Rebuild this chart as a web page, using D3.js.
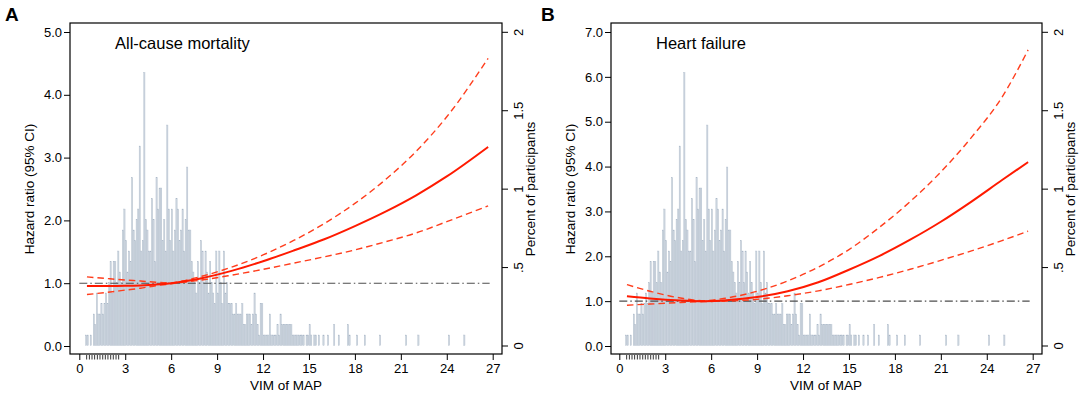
<!DOCTYPE html>
<html><head><meta charset="utf-8">
<script src="https://cdn.jsdelivr.net/npm/d3@7/dist/d3.min.js"></script>
<style>
html,body{margin:0;padding:0;background:#fff;}
svg{display:block;font-family:"Liberation Sans",Arial,sans-serif;}
</style></head><body>
<svg id="chart" width="1084" height="397"></svg>
<script>
// ---------------- DATA ----------------
const xTicks = [0,3,6,9,12,15,18,21,24,27];
const hrTicksA = [0,1,2,3,4,5];
const hrTicksB = [0,1,2,3,4,5,6,7];
const pctTicks = [0,0.5,1,1.5,2];
const pctLabels = ["0",".5","1","1.5","2"];
const rugTicks = [0.48,0.66,0.83,1.0,1.18,1.35,1.53,1.7,1.87,2.05,2.22,2.4,2.57];

// histogram (counts per 0.1-wide bin, shared by both panels)
const histStart = 0.4, binWidth = 0.1, totalN = 1494;
const histCounts = [
 1,1,0,1,0,3,2,5,3,3, 4,3,4,5,4,6,8,5,8,8, 6,9,7,6,11,13,10,7,9,8,
 16,11,10,12,13,19,9,10,26,12, 11,9,9,14,12,8,16,13,15,15, 10,12,9,21,13,10,13,9,11,14,
 13,10,11,13,9,12,17,11,11,8, 7,6,5,8,6,10,9,6,9,7, 5,8,6,5,4,9,5,9,6,4,
 9,5,6,4,4,4,3,3,4,3, 3,3,4,2,2,3,3,3,2,3, 5,3,2,1,4,4,1,1,1,1,
 3,1,1,1,1,2,1,3,2,2, 2,2,2,2,2,1,1,1,1,1, 1,1,1,0,1,1,2,1,0,1,1
];
const tailBins   = [15.6,15.9,16.2,16.6,16.9,17.5,17.6,18.1,18.6,19.6,21.3,22.1,24.1,25.1];
const tailCounts = [1,1,1,2,1,2,1,1,1,1,1,1,1,1];

// Panel A: all-cause mortality
const vimA   = [0.5,2,3,4,5,6,7,8,10,12,14,16,18,20,22,24,26.7];
const hrA    = [0.955,0.955,0.958,0.965,0.978,1.0,1.035,1.08,1.20,1.35,1.52,1.70,1.91,2.14,2.40,2.70,3.17];
const upperA = [1.10,1.07,1.05,1.035,1.015,1.005,1.05,1.11,1.26,1.45,1.68,1.95,2.27,2.65,3.10,3.65,4.58];
const lowerA = [0.82,0.86,0.89,0.92,0.96,0.99,1.02,1.05,1.13,1.22,1.32,1.42,1.53,1.66,1.80,1.98,2.23];

// Panel B: heart failure
const vimB   = [0.5,2,4,5.5,7,9,11,13,15,17,19,21,23,25,26.7];
const hrB    = [1.11,1.06,1.015,1.0,1.02,1.09,1.22,1.42,1.70,2.01,2.37,2.77,3.22,3.70,4.10];
const upperB = [1.37,1.22,1.07,1.01,1.07,1.22,1.45,1.76,2.15,2.65,3.22,3.88,4.65,5.55,6.60];
const lowerB = [0.91,0.935,0.97,0.99,1.0,1.04,1.12,1.23,1.37,1.53,1.71,1.91,2.12,2.35,2.56];

// ---------------- DRAW ----------------
const svg = d3.select("#chart");
const histBins = histCounts.map((c,i)=>({x: histStart + i*binWidth, c}))
  .concat(tailBins.map((x,i)=>({x, c: tailCounts[i]})));

function panel(cfg){
  const g = svg.append("g");
  const x = d3.scaleLinear().domain([0,27]).range([cfg.x0, cfg.x0 + 413.4]);
  const y = d3.scaleLinear().domain([0,cfg.hrMax]).range([346, 32]);
  const yp = d3.scaleLinear().domain([0,2]).range([345.5, 31.8]);

  // histogram
  g.append("g").selectAll("rect").data(histBins.filter(d=>d.c>0)).join("rect")
    .attr("x", d=>x(d.x)+0.1)
    .attr("width", x(binWidth)-x(0)-0.25)
    .attr("y", d=>yp(d.c/totalN*100))
    .attr("height", d=>yp(0)-yp(d.c/totalN*100))
    .attr("fill","#cdd5df").attr("stroke","#a9b7c7").attr("stroke-width",0.35);

  // reference line
  g.append("line").attr("x1",x(0)).attr("x2",x(26.8))
    .attr("y1",y(1)).attr("y2",y(1))
    .attr("stroke","#4d4d4d").attr("stroke-width",1.1)
    .attr("stroke-dasharray","8,3,1.5,3");

  const line = (xs, ys) => d3.line().x((d,i)=>x(xs[i])).y(d=>y(d)).curve(d3.curveMonotoneX)(ys);
  g.append("path").attr("d", line(cfg.vim, cfg.upper)).attr("fill","none")
    .attr("stroke","#ff3d1c").attr("stroke-width",1.4).attr("stroke-dasharray","6.5,4");
  g.append("path").attr("d", line(cfg.vim, cfg.lower)).attr("fill","none")
    .attr("stroke","#ff3d1c").attr("stroke-width",1.4).attr("stroke-dasharray","6.5,4");
  g.append("path").attr("d", line(cfg.vim, cfg.hr)).attr("fill","none")
    .attr("stroke","#ff1a00").attr("stroke-width",2);

  // box
  g.append("rect").attr("x",cfg.bx0).attr("y",23).attr("width",cfg.bx1-cfg.bx0).attr("height",354-23)
    .attr("fill","none").attr("stroke","#000").attr("stroke-width",1.2);

  // left axis
  const la = g.append("g").attr("transform",`translate(${cfg.bx0},0)`)
    .call(d3.axisLeft(y).tickValues(cfg.hrTicks).tickFormat(d3.format(".1f")).tickSize(6).tickPadding(2));
  la.select(".domain").remove();
  la.selectAll("text").attr("font-size",13).attr("font-family","Liberation Sans, Arial").attr("fill","#000");

  // right axis
  const ra = g.append("g").attr("transform",`translate(${cfg.bx1},0)`)
    .call(d3.axisRight(yp).tickValues(pctTicks).tickFormat((d,i)=>pctLabels[i]).tickSize(6));
  ra.select(".domain").remove();
  ra.selectAll("text").attr("font-size",13).attr("font-family","Liberation Sans, Arial").attr("fill","#000")
    .attr("x",0).attr("dy",0).attr("text-anchor","middle")
    .attr("transform","translate(16,0) rotate(-90)").attr("dominant-baseline","central");

  // bottom axis
  const ba = g.append("g").attr("transform","translate(0,354)")
    .call(d3.axisBottom(x).tickValues(xTicks).tickSize(6).tickPadding(4));
  ba.select(".domain").remove();
  ba.selectAll("text").attr("font-size",13).attr("font-family","Liberation Sans, Arial").attr("fill","#000");
  g.append("g").selectAll("line").data(rugTicks).join("line")
    .attr("x1",d=>x(d)).attr("x2",d=>x(d)).attr("y1",355).attr("y2",359.5)
    .attr("stroke","#000").attr("stroke-width",0.8);

  // titles
  g.append("text").attr("x",x(13.5)).attr("y",390).attr("text-anchor","middle")
    .attr("font-size",13.5).text("VIM of MAP");
  g.append("text").attr("transform",`translate(${cfg.bx0-41},189) rotate(-90)`)
    .attr("text-anchor","middle").attr("dominant-baseline","central").attr("font-size",13.5).text("Hazard ratio (95% CI)");
  g.append("text").attr("transform",`translate(${cfg.bx1+28},189) rotate(-90)`)
    .attr("text-anchor","middle").attr("dominant-baseline","central").attr("font-size",13.5).text("Percent of participants");
  g.append("text").attr("x",cfg.bx0+45).attr("y",49).attr("font-size",16.5).text(cfg.title);
  g.append("text").attr("x",cfg.lx).attr("y",21).attr("font-size",19).attr("font-weight","bold").text(cfg.label);
}

panel({x0:79.3, bx0:70, bx1:502, hrMax:5, hrTicks:hrTicksA, vim:vimA, hr:hrA, upper:upperA, lower:lowerA,
  title:"All-cause mortality", label:"A", lx:5});
panel({x0:619.3, bx0:611, bx1:1042, hrMax:7, hrTicks:hrTicksB, vim:vimB, hr:hrB, upper:upperB, lower:lowerB,
  title:"Heart failure", label:"B", lx:541});
</script>
</body></html>
